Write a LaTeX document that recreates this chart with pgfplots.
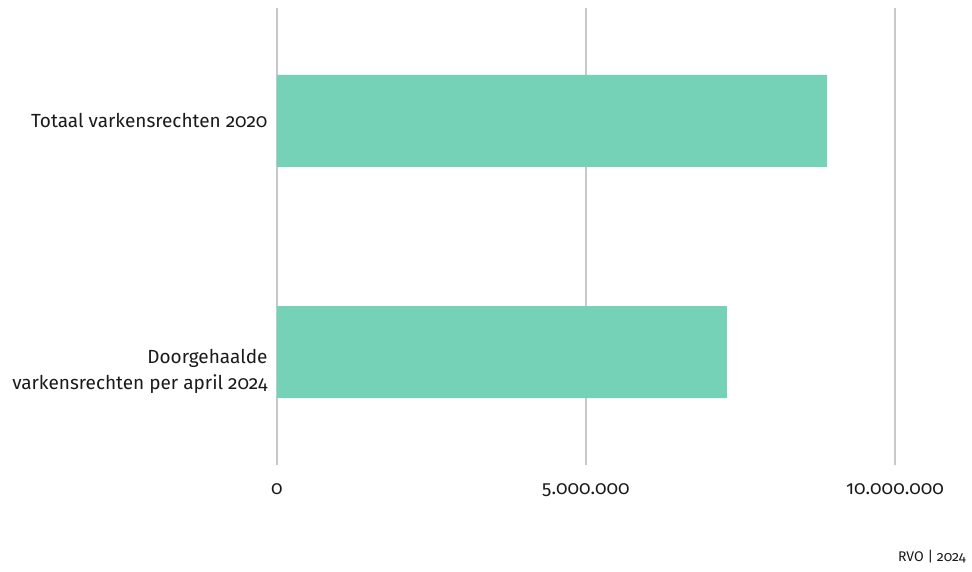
\documentclass[border=0pt]{standalone}
\usepackage{fontspec}
\setmainfont{Fira Sans}[RawFeature=+onum]
\usepackage{pgfplots}
\pgfplotsset{compat=1.18}
\definecolor{barc}{HTML}{76D2B6}
\definecolor{gridc}{HTML}{C8C8C8}
\definecolor{textc}{HTML}{1A1A1A}
\begin{document}
\begin{tikzpicture}
\useasboundingbox (-277pt,-106pt) rectangle (695pt,465pt);
\begin{axis}[
  at={(0pt,0pt)}, anchor=south west,
  scale only axis, width=618pt, height=457pt,
  xmin=0, xmax=10000000, ymin=-0.489, ymax=1.489,
  xbar, bar width=92pt,
  axis line style={draw=none},
  xmajorgrids, grid style={gridc, line width=1.2pt},
  major tick length=0pt,
  xtick={0,5000000,10000000},
  scaled x ticks=false,
  /pgf/number format/assume math mode=true,
  /pgf/number format/fixed,
  /pgf/number format/1000 sep={.},
  /pgf/number format/precision=0,
  xticklabel style={font=\fontsize{19}{22}\selectfont, yshift=-15pt, text=textc},
  ytick={1},
  yticklabels={{Totaal varkensrechten 2020}},
  yticklabel style={align=right, font=\fontsize{19}{26}\selectfont, xshift=-6pt, text=textc},
  extra y ticks={0},
  extra y tick labels={{Doorgehaalde\\varkensrechten per april 2024}},
  extra y tick style={yticklabel style={yshift=-19pt}, major tick length=0pt},
]
\addplot[fill=barc, draw=none] coordinates {(7280000,0) (8900000,1)};
\end{axis}
\node[anchor=east, font=\fontsize{14}{16}\selectfont, inner sep=0pt, text=textc] at (689pt,-92pt) {RVO | 2024};
\end{tikzpicture}
\end{document}
